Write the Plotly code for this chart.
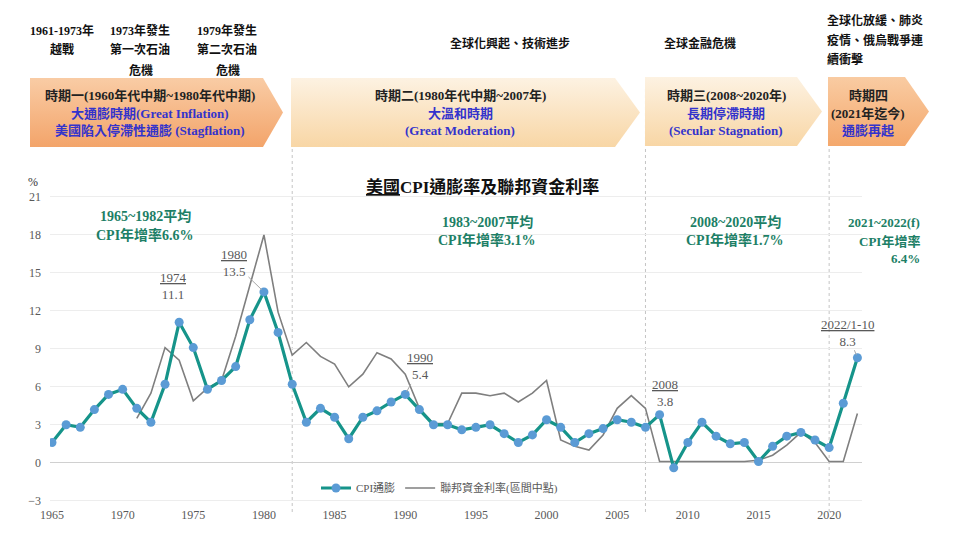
import plotly.graph_objects as go

# ---------------- data ----------------
cpi_years = list(range(1965, 2023))
cpi_values = [1.6, 3.0, 2.8, 4.2, 5.4, 5.8, 4.3, 3.2, 6.2, 11.1, 9.1, 5.8, 6.5, 7.6, 11.3, 13.5, 10.3, 6.2,
              3.2, 4.3, 3.6, 1.9, 3.6, 4.1, 4.8, 5.4, 4.2, 3.0, 3.0, 2.6, 2.8, 3.0, 2.3, 1.6, 2.2, 3.4,
              2.8, 1.6, 2.3, 2.7, 3.4, 3.2, 2.8, 3.8, -0.4, 1.6, 3.2, 2.1, 1.5, 1.6, 0.1, 1.3, 2.1, 2.4,
              1.8, 1.2, 4.7, 8.3]
ff_years = list(range(1971, 2023))
ff_values = [3.5, 5.5, 9.1, 8.1, 4.9, 5.9, 6.5, 10.0, 14.0, 18.0,
             11.9, 8.5, 9.5, 8.4, 7.8, 6.0, 7.0, 8.7, 8.2, 7.0,
             4.3, 3.1, 3.1, 5.5, 5.5, 5.3, 5.5, 4.8, 5.5, 6.5,
             1.8, 1.3, 1.0, 2.2, 4.3, 5.3, 4.3, 0.1, 0.1, 0.1,
             0.1, 0.1, 0.1, 0.1, 0.2, 0.6, 1.4, 2.4, 1.6, 0.1,
             0.1, 3.9]
x_ticks = [1965, 1970, 1975, 1980, 1985, 1990, 1995, 2000, 2005, 2010, 2015, 2020]
y_ticks = [-3, 0, 3, 6, 9, 12, 15, 18, 21]
period_breaks = [1982, 2007, 2020]
# labelled points: (year, label top line, value text)
point_labels = [(1974, "1974", "11.1"), (1980, "1980", "13.5"), (1990, "1990", "5.4"),
                (2008, "2008", "3.8"), (2022, "2022/1-10", "8.3")]

series_names = ["CPI通膨", "聯邦資金利率(區間中點)"]

# ---------------- style ----------------
W, H = 960, 534
OFF = 8  # page body margin
SERIF = "Liberation Serif, Noto Sans CJK TC, serif"
TEAL = "#16948a"
MARK = "#5b9bd5"
GRAY = "#7f7f7f"
GREEN = "#1d7f66"
BLUE = "#3333cc"
TXT = "#595959"


def px(x):
    return (x - OFF) / W


def py(y):
    return 1 - (y - OFF) / H


fig = go.Figure()

fig.add_trace(go.Scatter(x=ff_years, y=ff_values, mode="lines", name=series_names[1],
                         line=dict(color=GRAY, width=1.6), xaxis="x", yaxis="y"))
fig.add_trace(go.Scatter(x=cpi_years, y=cpi_values, mode="lines+markers", name=series_names[0],
                         line=dict(color=TEAL, width=3.2),
                         marker=dict(color=MARK, size=9, line=dict(width=0)), xaxis="x", yaxis="y"))

# ---------------- banners (decoration, pixel space overlay) ----------------
banners = [
    ([30, 263, 283, 263, 30], [78, 78, 112.5, 147, 147], "#f9cca5", "#f3a46a"),
    ([291, 615, 640, 615, 291], [78, 78, 112.5, 147, 147], "#fdf2e2", "#f8d6a5"),
    ([645, 797, 822, 797, 645], [77, 77, 111.5, 146, 146], "#fdf2e2", "#f8d6a5"),
    ([828, 905, 929, 905, 828], [77, 77, 111.5, 146, 146], "#f9cba2", "#f4a86c"),
]
for bx, by, ctop, cbot in banners:
    xx = [v - OFF for v in bx]
    yy = [H - (v - OFF) for v in by]
    fig.add_trace(go.Scatter(x=xx + [xx[0]], y=yy + [yy[0]], mode="lines", fill="toself",
                             line=dict(width=0, color="rgba(0,0,0,0)"),
                             fillgradient=dict(type="vertical", colorscale=[[0, cbot], [1, ctop]],
                                               start=min(yy), stop=max(yy)),
                             hoverinfo="skip", showlegend=False, xaxis="x2", yaxis="y2"))

annotations = []


def text(x, y, s, size=12, color="#111", bold=False, xanchor="center"):
    annotations.append(dict(x=px(x), y=py(y), xref="paper", yref="paper", showarrow=False,
                            text=("<b>%s</b>" % s) if bold else s, xanchor=xanchor, yanchor="middle",
                            font=dict(family=SERIF, size=size, color=color)))


# top event notes
text(62, 31, "1961-1973年", 12, bold=True)
text(62, 50, "越戰", 12, bold=True)
text(140, 31, "1973年發生", 12, bold=True)
text(140, 50, "第一次石油", 12, bold=True)
text(141, 70, "危機", 12, bold=True)
text(227, 31, "1979年發生", 12, bold=True)
text(227, 50, "第二次石油", 12, bold=True)
text(228, 70, "危機", 12, bold=True)
text(510, 44, "全球化興起、技術進步", 12, bold=True)
text(700, 44, "全球金融危機", 12, bold=True)
text(825, 20, "全球化放緩、肺炎", 12, bold=True, xanchor="left")
text(825, 40, "疫情、俄烏戰爭連", 12, bold=True, xanchor="left")
text(825, 59, "續衝擊", 12, bold=True, xanchor="left")

# banner texts
text(150, 96, "時期一(1960年代中期~1980年代中期)", 13, "#222", True)
text(150, 113, "大通膨時期(Great Inflation)", 13, BLUE, True)
text(150, 130, "美國陷入停滯性通膨 (Stagflation)", 13, BLUE, True)
text(460, 96, "時期二(1980年代中期~2007年)", 13, "#222", True)
text(460, 113, "大溫和時期", 13, BLUE, True)
text(460, 130, "(Great Moderation)", 13, BLUE, True)
text(726, 96, "時期三(2008~2020年)", 13, "#222", True)
text(726, 113, "長期停滯時期", 13, BLUE, True)
text(726, 130, "(Secular Stagnation)", 13, BLUE, True)
text(868, 96, "時期四", 13, "#222", True)
text(868, 113, "(2021年迄今)", 13, "#222", True)
text(868, 130, "通膨再起", 13, BLUE, True)

# title and unit
annotations.append(dict(x=px(482), y=py(187), xref="paper", yref="paper", showarrow=False,
                        text="<b><span style='text-decoration:underline'>美國</span>CPI通膨率及聯邦資金利率</b>",
                        xanchor="center", yanchor="middle", font=dict(family=SERIF, size=17, color="#111")))
text(33, 182, "%", 12, "#333")

# period averages
text(145, 216, "1965~1982平均", 14, GREEN, True)
text(145, 235, "CPI年增率6.6%", 14, GREEN, True)
text(487, 222, "1983~2007平均", 14, GREEN, True)
text(487, 240, "CPI年增率3.1%", 14, GREEN, True)
text(735, 222, "2008~2020平均", 14, GREEN, True)
text(735, 240, "CPI年增率1.7%", 14, GREEN, True)
text(922, 222, "2021~2022(f)", 13, GREEN, True, xanchor="right")
text(922, 241, "CPI年增率", 13, GREEN, True, xanchor="right")
text(922, 259, "6.4%", 13, GREEN, True, xanchor="right")

# point labels anchored to data
offsets = {1974: (-6, -36, False), 1980: (-30, -29, True), 1990: (15, -28, True),
           2008: (5, -22, False), 2022: (-10, -25, True)}
cpi_map = dict(zip(cpi_years, cpi_values))
for yr, top, val in point_labels:
    dx, dy, arrow = offsets[yr]
    lbl = "<span style='text-decoration:underline'>%s</span><br>%s" % (top, val)
    a = dict(x=yr, y=cpi_map[yr], xref="x", yref="y", text=lbl,
             font=dict(family=SERIF, size=13, color=TXT), align="center")
    if arrow:
        a.update(showarrow=True, ax=dx, ay=dy, arrowhead=0, arrowwidth=1, arrowcolor="#a6a6a6",
                 standoff=3)
    else:
        a.update(showarrow=False, xshift=dx, yshift=-dy)
    annotations.append(a)

# vertical period separators
shapes = []
for yr in period_breaks:
    shapes.append(dict(type="line", xref="x", yref="paper", x0=yr, x1=yr, y0=py(512), y1=py(86),
                       line=dict(color="#c4c4c4", width=1, dash="dot"), layer="below"))

x_left, x_right = 50, 862
ppy = 14.13
fig.update_layout(
    width=W, height=H, template="none",
    margin=dict(l=0, r=0, t=0, b=0),
    paper_bgcolor="white", plot_bgcolor="rgba(0,0,0,0)",
    font=dict(family=SERIF, color=TXT),
    xaxis=dict(domain=[px(x_left), px(x_right)], range=[1965 - 2 / ppy, 1965 + (x_right - 52) / ppy],
               tickvals=x_ticks, showgrid=False, zeroline=False, showline=False, ticks="",
               tickfont=dict(family=SERIF, size=12, color=TXT), anchor="y", automargin=False),
    yaxis=dict(domain=[py(505.8), py(191.9)], range=[-3.4, 21.4], tickvals=y_ticks,
               showgrid=True, gridcolor="#ededed", gridwidth=1, zeroline=True, zerolinecolor="#d0d0d0",
               zerolinewidth=1, showline=False, ticks="", ticklabelstandoff=8,
               tickfont=dict(family=SERIF, size=12, color=TXT), anchor="x", automargin=False),
    xaxis2=dict(domain=[0, 1], range=[0, W], visible=False, anchor="y2", fixedrange=True),
    yaxis2=dict(domain=[0, 1], range=[0, H], visible=False, anchor="x2", fixedrange=True),
    legend=dict(orientation="h", x=px(316), y=py(488), xanchor="left", yanchor="middle",
                font=dict(family=SERIF, size=11, color=TXT), bgcolor="rgba(0,0,0,0)",
                traceorder="reversed", itemwidth=30),
    annotations=annotations, shapes=shapes, showlegend=True,
)

fig.write_html("out.html")
